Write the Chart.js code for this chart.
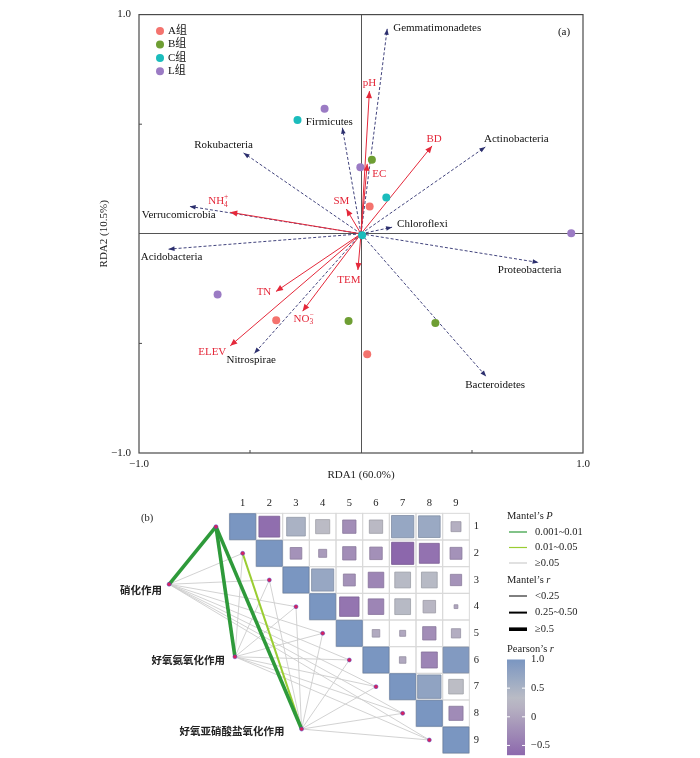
<!DOCTYPE html>
<html>
<head>
<meta charset="utf-8">
<script src="https://cdn.jsdelivr.net/npm/chart.js@4.4.0/dist/chart.umd.min.js"></script>
<style>
  body { margin: 0; background: #fff; }
  #wrap { position: relative; width: 700px; height: 758px; }
  #rda { position: absolute; left: 0; top: 0; }
  #mantel { position: absolute; left: 0; top: 490px; }
</style>
</head>
<body>
<div id="wrap">
  <canvas id="rda" width="700" height="490"></canvas>
  <canvas id="mantel" width="700" height="268"></canvas>
</div>
<script>
/* ---- (a) RDA ---- */
const groupNames = ['A组', 'B组', 'C组', 'L组'];
const groupA = [[0.039, 0.125], [-0.382, -0.394], [0.028, -0.549]];
const groupB = [[0.049, 0.338], [-0.056, -0.398], [0.335, -0.407]];
const groupC = [[0.114, 0.166], [-0.286, 0.519], [0.005, -0.007]];
const groupL = [[-0.003, 0.304], [-0.164, 0.570], [0.947, 0.003], [-0.646, -0.277]];

// environmental factors (arrow tips)
const envNames = ['pH', 'EC', 'BD', 'SM', 'NH4+', 'TEM', 'TN', 'NO3-', 'ELEV'];
const envX = [0.038, 0.028, 0.320, -0.066, -0.589, -0.014, -0.383, -0.263, -0.589];
const envY = [0.651, 0.319, 0.401, 0.113, 0.098, -0.165, -0.263, -0.353, -0.511];

// phyla (arrow tips)
const phylaNames = ['Gemmatimonadetes', 'Firmicutes', 'Rokubacteria', 'Actinobacteria', 'Verrucomicrobia',
  'Chloroflexi', 'Acidobacteria', 'Proteobacteria', 'Nitrospirae', 'Bacteroidetes'];
const phylaX = [0.118, -0.084, -0.529, 0.560, -0.772, 0.140, -0.867, 0.800, -0.481, 0.564];
const phylaY = [0.935, 0.484, 0.369, 0.396, 0.125, 0.030, -0.070, -0.131, -0.546, -0.651];

const axisTicks = [-1, -0.5, 0, 0.5, 1];

// label placement (px offsets from arrow tip)
const envLabelOff = [[0, -8], [12, 10], [2, -7], [-5, -8], [-12, -11], [-9, 10], [-12, 1], [1, 8], [-18, 6]];
const phylaLabelOff = [['left', 6, -1], ['center', -13, -6], ['center', -20, -8], ['center', 31, -8], ['center', -11, 9],
  ['left', 5, -3], ['center', 3, 8], ['center', -9, 8], ['center', -3, 7], ['center', 9, 9]];

const groupColors = ['#f4736e', '#6e9e33', '#1bbcbc', '#9b7bc4'];
const ENV_RED = '#e4283a';
const NAVY = '#2c2f6e';
const SERIF = '"Liberation Serif", "Noto Sans CJK SC"';

function chemParts(name) {
  if (name === 'NH4+') return [['NH'], ['4', 'sub'], ['+', 'sup']];
  if (name === 'NO3-') return [['NO'], ['3', 'sub'], ['\u2212', 'sup']];
  return [[name]];
}

function drawRich(ctx, parts, x, y, align, size) {
  const small = size * 0.68;
  let w = 0, lastSub = 0;
  const items = parts.map(([t, k]) => {
    ctx.font = (k ? small : size) + 'px ' + SERIF;
    const tw = ctx.measureText(t).width;
    let px = w;
    if (k === 'sup' && lastSub) { px = w - lastSub; w = px + Math.max(tw, lastSub); }
    else w += tw;
    lastSub = k === 'sub' ? tw : 0;
    return { t, k, px };
  });
  const x0 = align === 'left' ? x : x - w / 2;
  ctx.textAlign = 'left';
  ctx.textBaseline = 'middle';
  items.forEach(it => {
    ctx.font = (it.k ? small : size) + 'px ' + SERIF;
    const dy = it.k === 'sub' ? size * 0.3 : it.k === 'sup' ? -size * 0.35 : 0;
    ctx.fillText(it.t, x0 + it.px, y + dy);
  });
}

function arrowHead(ctx, x0, y0, x1, y1, color, len, half) {
  const a = Math.atan2(y1 - y0, x1 - x0);
  ctx.save();
  ctx.fillStyle = color;
  ctx.beginPath();
  ctx.moveTo(x1, y1);
  ctx.lineTo(x1 - len * Math.cos(a) + half * Math.sin(a), y1 - len * Math.sin(a) - half * Math.cos(a));
  ctx.lineTo(x1 - len * Math.cos(a) - half * Math.sin(a), y1 - len * Math.sin(a) + half * Math.cos(a));
  ctx.closePath();
  ctx.fill();
  ctx.restore();
}

const rdaDecor = {
  id: 'rdaDecor',
  afterDatasetDraw(chart, args) {
    const ds = chart.data.datasets[args.index];
    if (!ds.arrow) return;
    const p = args.meta.data;
    arrowHead(chart.ctx, p[0].x, p[0].y, p[1].x, p[1].y, ds.borderColor, ds.headLen, ds.headHalf);
  },
  afterDraw(chart) {
    const { ctx, chartArea: a, scales: { x, y } } = chart;
    ctx.save();
    ctx.strokeStyle = '#4a4a4a';
    ctx.lineWidth = 1.2;
    ctx.strokeRect(a.left, a.top, a.right - a.left, a.bottom - a.top);
    ctx.lineWidth = 1;
    [-0.5, 0.5].forEach(v => {
      const px = x.getPixelForValue(v), py = y.getPixelForValue(v);
      ctx.beginPath();
      ctx.moveTo(px, a.bottom); ctx.lineTo(px, a.bottom - 3);
      ctx.moveTo(a.left, py); ctx.lineTo(a.left + 3, py);
      ctx.stroke();
    });
    // env labels
    ctx.fillStyle = ENV_RED;
    envNames.forEach((n, i) => {
      const [dx, dy] = envLabelOff[i];
      drawRich(ctx, chemParts(n), x.getPixelForValue(envX[i]) + dx, y.getPixelForValue(envY[i]) + dy, 'center', 11);
    });
    // phyla labels
    ctx.fillStyle = '#111';
    phylaNames.forEach((n, i) => {
      const [al, dx, dy] = phylaLabelOff[i];
      drawRich(ctx, [[n]], x.getPixelForValue(phylaX[i]) + dx, y.getPixelForValue(phylaY[i]) + dy, al, 11);
    });
    // legend
    groupNames.forEach((g, i) => {
      const cy = a.top + 16.5 + i * 13.4;
      ctx.fillStyle = groupColors[i];
      ctx.beginPath();
      ctx.arc(a.left + 21, cy, 4, 0, Math.PI * 2);
      ctx.fill();
      ctx.fillStyle = '#111';
      ctx.font = '11px ' + SERIF;
      ctx.textAlign = 'left';
      ctx.textBaseline = 'middle';
      ctx.fillText(g, a.left + 29, cy);
    });
    ctx.textAlign = 'center';
    ctx.fillText('(a)', a.right - 19, a.top + 18);
    ctx.restore();
  }
};

const pts = arr => arr.map(([px, py]) => ({ x: px, y: py }));
const rdaSets = [];
[groupA, groupB, groupC, groupL].forEach((g, i) => rdaSets.push({
  label: groupNames[i], data: pts(g), backgroundColor: groupColors[i], borderWidth: 0,
  pointRadius: 4, order: 1
}));
envNames.forEach((n, i) => rdaSets.push({
  label: n, data: [{ x: 0, y: 0 }, { x: envX[i], y: envY[i] }], showLine: true, arrow: true,
  borderColor: ENV_RED, borderWidth: 1, pointRadius: 0, headLen: 7, headHalf: 3, order: 2
}));
phylaNames.forEach((n, i) => rdaSets.push({
  label: n, data: [{ x: 0, y: 0 }, { x: phylaX[i], y: phylaY[i] }], showLine: true, arrow: true,
  borderColor: NAVY, borderWidth: 0.9, borderDash: [3, 2], pointRadius: 0, headLen: 6, headHalf: 2.3, order: 3
}));

const tickLabel = v => v === -1 ? '\u22121.0' : v === 1 ? '1.0' : '';
const zeroGrid = c => c.tick && c.tick.value === 0 ? '#555' : 'rgba(0,0,0,0)';

new Chart(document.getElementById('rda'), {
  type: 'scatter',
  data: { datasets: rdaSets },
  options: {
    responsive: false,
    animation: false,
    events: [],
    layout: { padding: { top: 10, right: 117, left: 0, bottom: 0 } },
    plugins: { legend: { display: false }, tooltip: { enabled: false } },
    scales: {
      x: {
        min: -1, max: 1,
        afterBuildTicks: s => { s.ticks = axisTicks.map(v => ({ value: v })); },
        afterFit: s => { s.height = 37; },
        border: { display: false },
        grid: { drawTicks: false, color: zeroGrid, lineWidth: 1 },
        ticks: { callback: tickLabel, padding: 5, maxRotation: 0, autoSkip: false,
          color: '#222', font: { family: 'Liberation Serif', size: 11 } },
        title: { display: true, text: 'RDA1 (60.0%)', color: '#222',
          font: { family: 'Liberation Serif', size: 11 }, padding: { top: 0, bottom: 8 } }
      },
      y: {
        min: -1, max: 1,
        afterBuildTicks: s => { s.ticks = axisTicks.map(v => ({ value: v })); },
        afterFit: s => { s.width = 139; },
        border: { display: false },
        grid: { drawTicks: false, color: zeroGrid, lineWidth: 1 },
        ticks: { callback: tickLabel, padding: 8, autoSkip: false,
          color: '#222', font: { family: 'Liberation Serif', size: 11 } },
        title: { display: true, text: 'RDA2 (10.5%)', color: '#222',
          font: { family: 'Liberation Serif', size: 11 }, padding: { top: 98, bottom: 0 } }
      }
    }
  },
  plugins: [rdaDecor]
});

/* ---- (b) Mantel test + Pearson correlation ---- */
const varIds = [1, 2, 3, 4, 5, 6, 7, 8, 9];
// Pearson's r, upper triangle; row i lists columns i+1..9
const corrRow1 = [-0.61, 0.49, 0.28, -0.25, 0.25, 0.70, 0.66, 0.14];
const corrRow2 = [-0.19, -0.09, -0.25, -0.22, -0.69, -0.56, -0.20];
const corrRow3 = [0.69, -0.20, -0.34, 0.35, 0.35, -0.18];
const corrRow4 = [-0.53, -0.34, 0.35, 0.22, 0.02];
const corrRow5 = [0.08, 0.05, -0.25, 0.12];
const corrRow6 = [0.06, -0.36, 0.92];
const corrRow7 = [0.77, 0.30];
const corrRow8 = [-0.28];
const corrRows = [corrRow1, corrRow2, corrRow3, corrRow4, corrRow5, corrRow6, corrRow7, corrRow8, []];

const processNames = ['硝化作用', '好氧氨氧化作用', '好氧亚硝酸盐氧化作用'];
// Mantel's P class for variables 1–9: 0 = 0.001~0.01, 1 = 0.01~0.05, 2 = ≥0.05
const mantelP1 = [0, 2, 2, 2, 2, 2, 2, 2, 2];
const mantelP2 = [0, 2, 2, 2, 2, 2, 2, 2, 2];
const mantelP3 = [0, 1, 2, 2, 2, 2, 2, 2, 2];
// Mantel's r class: 0 = <0.25, 1 = 0.25~0.50, 2 = ≥0.5
const mantelR1 = [2, 0, 0, 0, 0, 0, 0, 0, 0];
const mantelR2 = [2, 0, 0, 0, 0, 0, 0, 0, 0];
const mantelR3 = [2, 1, 0, 0, 0, 0, 0, 0, 0];

const pClassLabels = ['0.001~0.01', '0.01~0.05', '\u22650.05'];
const rClassLabels = ['<0.25', '0.25~0.50', '\u22650.5'];
const pColors = ['#2e9a3a', '#9acd32', '#cdcdcd'];
const rWidths = [0.9, 2, 3.6];

// layout of process nodes in grid units, and label offsets (px)
const nodePos = [[-1.76, 3.16], [0.71, 5.88], [3.21, 8.59]];
const nodeLabelOff = [[-7, 6], [-10, 3], [-17, 2]];
const B_TOP = 490;

const cStops = [[-0.7, [140, 102, 172]], [0.3, [188, 189, 197]], [1, [122, 150, 193]]];
function rColor(r, k = 1) {
  let i = r <= cStops[1][0] ? 0 : 1;
  const [a, ca] = cStops[i], [b, cb] = cStops[i + 1];
  const t = Math.max(0, Math.min(1, (r - a) / (b - a)));
  const c = ca.map((v, j) => Math.round((v + (cb[j] - v) * t) * k));
  return `rgb(${c[0]},${c[1]},${c[2]})`;
}

const corrData = [];
varIds.forEach((i, ri) => {
  corrData.push({ x: i, y: i, r: 1 });
  corrRows[ri].forEach((r, k) => corrData.push({ x: i + 1 + k, y: i, r }));
});

const cellPx = ch => ch.scales.x.getPixelForValue(1) - ch.scales.x.getPixelForValue(0);

const mantelSets = [];
[[mantelP1, mantelR1], [mantelP2, mantelR2], [mantelP3, mantelR3]].forEach(([pc, rc], p) => {
  varIds.forEach((v, k) => mantelSets.push({
    data: [{ x: nodePos[p][0], y: nodePos[p][1] }, { x: v - 1, y: v }],
    showLine: true, pointRadius: 0, borderColor: pColors[pc[k]], borderWidth: rWidths[rc[k]],
    order: pc[k] === 2 ? 6 : 5, clip: false
  }));
});

const mantelDecor = {
  id: 'mantelDecor',
  beforeDatasetsDraw(chart) {
    const { ctx, scales: { x, y } } = chart;
    ctx.save();
    ctx.strokeStyle = '#d9d9d9';
    ctx.lineWidth = 1;
    varIds.forEach(i => varIds.forEach(j => {
      if (j < i) return;
      const l = x.getPixelForValue(j - 0.5), r = x.getPixelForValue(j + 0.5);
      const t = y.getPixelForValue(i - 0.5), b = y.getPixelForValue(i + 0.5);
      ctx.strokeRect(l, t, r - l, b - t);
    }));
    ctx.restore();
  },
  afterDraw(chart) {
    const { ctx, chartArea: a, scales: { x, y } } = chart;
    ctx.save();
    ctx.fillStyle = '#222';
    ctx.textBaseline = 'middle';
    ctx.font = '10.5px ' + SERIF;
    ctx.textAlign = 'center';
    varIds.forEach(v => {
      ctx.fillText(String(v), x.getPixelForValue(v), a.top - 10);
      ctx.fillText(String(v), a.right + 7, y.getPixelForValue(v));
    });
    ctx.fillText('(b)', 147, 518 - B_TOP);
    // process labels
    ctx.font = 'bold 10.5px "Noto Sans CJK SC"';
    ctx.textAlign = 'right';
    processNames.forEach((n, p) => {
      ctx.fillText(n, x.getPixelForValue(nodePos[p][0]) + nodeLabelOff[p][0],
        y.getPixelForValue(nodePos[p][1]) + nodeLabelOff[p][1]);
    });
    // legend
    const lx = 507;
    const head = (t, it, yy) => {
      ctx.textAlign = 'left';
      ctx.font = '10.5px ' + SERIF;
      ctx.fillText(t, lx, yy - B_TOP);
      const w = ctx.measureText(t).width;
      ctx.font = 'italic 10.5px ' + SERIF;
      ctx.fillText(it, lx + w, yy - B_TOP);
    };
    const item = (col, lw, label, yy) => {
      ctx.strokeStyle = col;
      ctx.lineWidth = lw;
      ctx.beginPath();
      ctx.moveTo(lx + 2, yy - B_TOP); ctx.lineTo(lx + 20, yy - B_TOP);
      ctx.stroke();
      ctx.font = '10.5px ' + SERIF;
      ctx.textAlign = 'left';
      ctx.fillText(label, lx + 28, yy - B_TOP);
    };
    head('Mantel\u2019s ', 'P', 516);
    pClassLabels.forEach((l, i) => item(pColors[i], 1.2, l, 532 + i * 15.5));
    head('Mantel\u2019s ', 'r', 580);
    rClassLabels.forEach((l, i) => item('#000', rWidths[i] === 0.9 ? 1 : rWidths[i], l, 596 + i * 16.6));
    head('Pearson\u2019s ', 'r', 649);
    // colour bar
    const v2y = v => 659.5 - B_TOP + (1 - v) * 57.3;
    const top = v2y(1), bot = v2y(-0.67);
    const g = ctx.createLinearGradient(0, top, 0, bot);
    for (let s = 0; s <= 10; s++) {
      const v = 1 - s * (1.67 / 10);
      g.addColorStop(s / 10, rColor(v));
    }
    ctx.fillStyle = g;
    ctx.fillRect(lx, top, 18, bot - top);
    ctx.strokeStyle = '#fff';
    ctx.lineWidth = 1;
    ctx.font = '10.5px ' + SERIF;
    [1, 0.5, 0, -0.5].forEach(v => {
      const yy = v2y(v);
      if (v !== 1) {
        ctx.beginPath();
        ctx.moveTo(lx, yy); ctx.lineTo(lx + 3, yy);
        ctx.moveTo(lx + 15, yy); ctx.lineTo(lx + 18, yy);
        ctx.stroke();
      }
      ctx.fillStyle = '#222';
      ctx.fillText(v === 1 ? '1.0' : v < 0 ? '\u22120.5' : String(v), lx + 24, yy);
    });
    ctx.restore();
  }
};

new Chart(document.getElementById('mantel'), {
  type: 'scatter',
  data: {
    datasets: [
      ...mantelSets,
      {
        data: corrData, pointStyle: 'rect', order: 3, clip: false,
        radius: c => (c.raw.r === 1 ? 1 : Math.sqrt(Math.abs(c.raw.r))) * cellPx(c.chart) / Math.SQRT2 - (c.raw.r === 1 ? 0.5 : 0),
        backgroundColor: c => rColor(c.raw.r),
        borderColor: c => rColor(c.raw.r, 0.85),
        borderWidth: 0.8
      },
      {
        data: [...nodePos.map(([px, py]) => ({ x: px, y: py })), ...varIds.map(v => ({ x: v - 1, y: v }))],
        pointRadius: 2, backgroundColor: '#d8225e', borderColor: '#4b4bc8', borderWidth: 0.5, order: 0, clip: false
      }
    ]
  },
  options: {
    responsive: false,
    animation: false,
    events: [],
    layout: { padding: { left: 96, right: 230.67, top: 23.33, bottom: 4.67 } },
    plugins: { legend: { display: false }, tooltip: { enabled: false } },
    scales: {
      x: { type: 'linear', min: -4.5, max: 9.5, display: false },
      y: { type: 'linear', min: 0.5, max: 9.5, reverse: true, display: false }
    }
  },
  plugins: [mantelDecor]
});
</script>
</body>
</html>
